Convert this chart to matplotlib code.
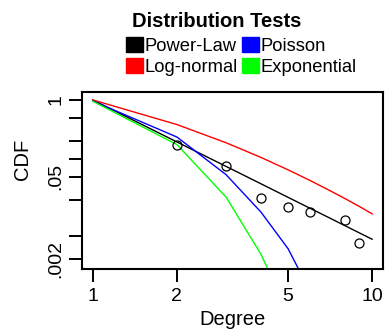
import matplotlib.pyplot as plt
from matplotlib.patches import Rectangle

plt.rcParams['font.family'] = ['Liberation Sans', 'DejaVu Sans']

# observed degree distribution
obs_degree = [2, 3, 4, 5, 6, 8, 9]
obs_cdf = [0.172, 0.0755, 0.0216, 0.0155, 0.0128, 0.0093, 0.0037]

# fitted curves
fit_degree = [1, 2, 3, 4, 5, 6, 7, 8, 9, 10]
powerlaw_cdf = [1.0, 0.194, 0.0746, 0.0378, 0.0223, 0.0145, 0.0101, 0.00735, 0.00556, 0.00434]
lognormal_cdf = [1.0, 0.383, 0.188, 0.106, 0.0653, 0.043, 0.0296, 0.0212, 0.0156, 0.0117]
poisson_degree = [1, 2, 3, 4, 5, 6]
poisson_cdf = [0.96, 0.235, 0.054, 0.0125, 0.003, 0.00056]
expo_degree = [1, 2, 3, 4, 5]
expo_cdf = [0.95, 0.175, 0.0225, 0.0024, 0.00025]

legend_labels = ['Power-Law', 'Poisson', 'Log-normal', 'Exponential']
legend_colors = ['black', 'blue', 'red', '#00ff00']

xticks = [1, 2, 5, 10]
xtick_labels = ['1', '2', '5', '10']
yticks = [1, 0.5, 0.2, 0.1, 0.05, 0.02, 0.005, 0.002]
ytick_labels = ['1', '', '', '', '.05', '', '', '.002']

W, H = 385, 333
fig = plt.figure(figsize=(W / 100, H / 100), dpi=100)
ax = fig.add_axes([81.7 / W, 1 - 269.3 / H, 301.6 / W, 177 / H])

ax.plot(fit_degree, powerlaw_cdf, color='black', lw=1.0)
ax.plot(fit_degree, lognormal_cdf, color='red', lw=1.0)
ax.plot(poisson_degree, poisson_cdf, color='blue', lw=1.0)
ax.plot(expo_degree, expo_cdf, color='#00ff00', lw=1.0)
ax.plot(obs_degree, obs_cdf, 'o', mfc='none', mec='black', ms=6.5, mew=0.9)

ax.set_xscale('log')
ax.set_yscale('log')
ax.set_xlim(10 ** -0.04, 10 ** 1.04)
ax.set_ylim(0.00134, 1.35)
ax.minorticks_off()
ax.set_xticks(xticks)
ax.set_xticklabels(xtick_labels)
ax.set_yticks(yticks)
ax.set_yticklabels(ytick_labels)
ax.tick_params(axis='both', length=9.5, width=1.4, labelsize=14, direction='out')
ax.tick_params(axis='x', pad=4)
ax.tick_params(axis='y', pad=3, labelrotation=90)
for t in ax.get_yticklabels():
    t.set_va('center')
for s in ax.spines.values():
    s.set_linewidth(1.5)

fig.text(28 / W, 1 - 159 / H, 'CDF', rotation=90, rotation_mode='anchor',
         ha='center', va='baseline', fontsize=14.5)
fig.text(232.5 / W, 1 - 325 / H, 'Degree', ha='center', va='baseline', fontsize=14.5)

# title and legend
fig.text(216.5 / W, 1 - 26.7 / H, 'Distribution Tests', ha='center', va='baseline',
         fontsize=14.5, fontweight='bold')
col_x = [126, 242]
row_base = [51, 72.5]
for i, (lab, col) in enumerate(zip(legend_labels, legend_colors)):
    x0 = col_x[i % 2]
    yb = row_base[i // 2]
    fig.patches.append(Rectangle((x0 / W, 1 - (yb + 0.5) / H), 17 / W, 15 / H,
                                 transform=fig.transFigure, color=col))
    fig.text((x0 + 18.5) / W, 1 - yb / H, lab, ha='left', va='baseline', fontsize=13.2)

fig.savefig('out.png', dpi=100)
